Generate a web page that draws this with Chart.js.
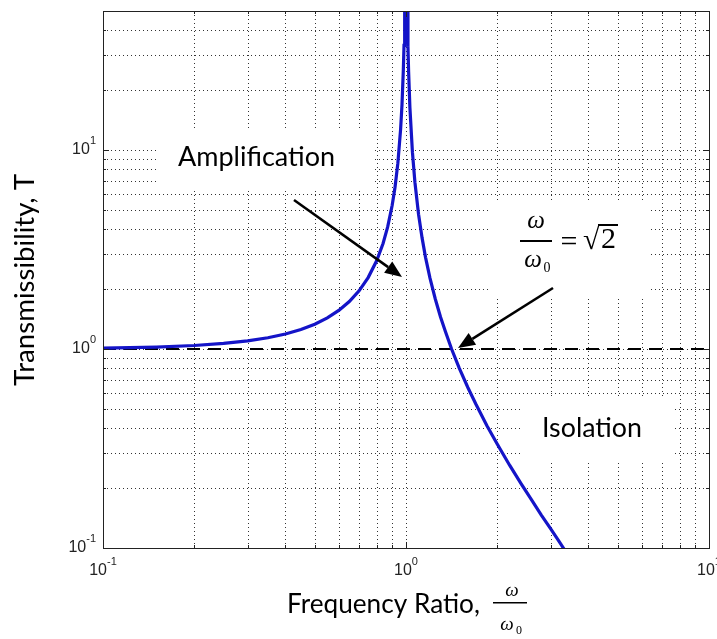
<!DOCTYPE html>
<html>
<head>
<meta charset="utf-8">
<script src="https://cdn.jsdelivr.net/npm/chart.js@4"></script>
<style>
  html, body { margin: 0; padding: 0; background: #fff; }
  #wrap { width: 717px; height: 639px; position: relative; }
</style>
</head>
<body>
<div id="wrap"><canvas id="chart" width="717" height="639"></canvas></div>
<script>
// frequency ratio w/w0 and transmissibility
const ratio = [0.1, 0.15, 0.2, 0.25, 0.3, 0.35, 0.4, 0.45, 0.5, 0.55, 0.6, 0.65, 0.7, 0.75, 0.8, 0.84, 0.87,
  0.9, 0.92, 0.94, 0.96, 0.97, 0.98, 0.985, 0.99, 0.995, 1.005, 1.01, 1.015, 1.02, 1.03, 1.05, 1.07, 1.1, 1.13, 1.16,
  1.2, 1.25, 1.3, 1.35, 1.414, 1.5, 1.6, 1.7, 1.85, 2.0, 2.2, 2.4, 2.6, 2.8, 3.0, 3.2, 3.32];
const transmissibility = [1.01, 1.023, 1.042, 1.067, 1.099, 1.14, 1.19, 1.254, 1.333, 1.434, 1.563, 1.732,
  1.961, 2.286, 2.778, 3.39, 4.11, 5.26, 6.51, 8.59, 12.76, 16.9, 25.3, 33.6, 50.3, 100, 100, 49.8, 33.1, 24.8, 16.4,
  9.76, 6.9, 4.76, 3.62, 2.89, 2.27, 1.78, 1.45, 1.22, 1.0, 0.8, 0.641, 0.529, 0.412, 0.333, 0.26, 0.21,
  0.174, 0.146, 0.125, 0.108, 0.099];
const unityX = [0.1, 10];
const unityY = [1, 1];

const xGrid = [0.2, 0.3, 0.4, 0.5, 0.6, 0.7, 0.8, 0.9, 1, 2, 3, 4, 5, 6, 7, 8, 9];
const yGrid = [0.2, 0.3, 0.4, 0.5, 0.6, 0.7, 0.8, 0.9, 1, 2, 3, 4, 5, 6, 7, 8, 9, 10, 20, 30, 40];
const decades = [0.1, 1, 10];
const decadeExp = ['-1', '0', '1'];

function fitFont(ctx, text, width, family, style) {
  ctx.font = (style || '') + ' 100px ' + family;
  const size = 100 * width / ctx.measureText(text).width;
  return (style || '') + ' ' + size.toFixed(2) + 'px ' + family;
}

function arrow(ctx, x1, y1, x2, y2) {
  const a = Math.atan2(y2 - y1, x2 - x1);
  const len = 17, half = 7;
  const bx = x2 - len * Math.cos(a), by = y2 - len * Math.sin(a);
  ctx.save();
  ctx.strokeStyle = '#000'; ctx.fillStyle = '#000'; ctx.lineWidth = 2.5;
  ctx.beginPath(); ctx.moveTo(x1, y1); ctx.lineTo(bx, by); ctx.stroke();
  ctx.beginPath();
  ctx.moveTo(x2, y2);
  ctx.lineTo(bx + half * Math.sin(a), by - half * Math.cos(a));
  ctx.lineTo(bx - half * Math.sin(a), by + half * Math.cos(a));
  ctx.closePath(); ctx.fill();
  ctx.restore();
}

const backdrop = {
  id: 'backdrop',
  beforeDatasetsDraw(chart) {
    const { ctx, chartArea: a, scales: { x, y } } = chart;
    ctx.save();
    // dotted grid
    ctx.strokeStyle = '#333'; ctx.lineWidth = 1; ctx.setLineDash([1, 3]);
    xGrid.forEach(v => {
      const px = Math.round(x.getPixelForValue(v)) + 0.5;
      ctx.beginPath(); ctx.moveTo(px, a.top); ctx.lineTo(px, a.bottom); ctx.stroke();
    });
    yGrid.forEach(v => {
      const py = Math.round(y.getPixelForValue(v)) + 0.5;
      ctx.beginPath(); ctx.moveTo(a.left, py); ctx.lineTo(a.right, py); ctx.stroke();
    });
    ctx.setLineDash([]);
    // white label boxes
    ctx.fillStyle = '#fff';
    ctx.fillRect(158, 128, 214, 60);
    ctx.fillRect(488, 202, 162, 95);
    ctx.fillRect(520, 397, 153, 63);
    // annotation texts
    ctx.fillStyle = '#000';
    ctx.textAlign = 'left'; ctx.textBaseline = 'alphabetic';
    ctx.font = fitFont(ctx, 'Amplification', 157, 'Lato');
    ctx.fillText('Amplification', 178, 166);
    ctx.font = fitFont(ctx, 'Isolation', 100, 'Lato');
    ctx.fillText('Isolation', 542, 437);
    // w / w0 = sqrt 2
    ctx.textAlign = 'center';
    ctx.font = 'italic 25px "Liberation Serif"';
    ctx.fillText('ω', 536, 228);
    ctx.fillText('ω', 533, 267);
    ctx.font = '14px "Liberation Serif"';
    ctx.fillText('0', 547, 272);
    ctx.fillRect(520, 240, 32, 2);
    ctx.font = '30px "Liberation Serif"';
    ctx.fillText('=', 569, 251);
    ctx.textAlign = 'left';
    ctx.fillText('√', 583, 249);
    ctx.fillText('2', 601, 248);
    ctx.fillRect(598, 224, 20, 2);
    ctx.restore();
  },
  afterDatasetsDraw(chart) {
    const { ctx, chartArea: a, scales: { x, y } } = chart;
    ctx.save();
    // frame and inward ticks
    ctx.strokeStyle = '#222'; ctx.lineWidth = 1;
    ctx.strokeRect(a.left + 0.5, a.top + 0.5, a.right - a.left, a.bottom - a.top);
    ctx.beginPath();
    xGrid.concat(decades).forEach(v => {
      const px = Math.round(x.getPixelForValue(v)) + 0.5;
      const t = decades.includes(v) ? 6 : 3;
      ctx.moveTo(px, a.bottom); ctx.lineTo(px, a.bottom - t);
      ctx.moveTo(px, a.top); ctx.lineTo(px, a.top + t);
    });
    yGrid.forEach(v => {
      const py = Math.round(y.getPixelForValue(v)) + 0.5;
      const t = decades.includes(v) ? 6 : 3;
      ctx.moveTo(a.left, py); ctx.lineTo(a.left + t, py);
      ctx.moveTo(a.right, py); ctx.lineTo(a.right - t, py);
    });
    ctx.stroke();

    // decade tick labels
    ctx.fillStyle = '#222'; ctx.textBaseline = 'middle';
    const big = '16px "Liberation Sans"', small = '11px "Liberation Sans"';
    decades.forEach((v, i) => {
      ctx.font = big;
      const w1 = ctx.measureText('10').width;
      ctx.font = small;
      const w2 = ctx.measureText(decadeExp[i]).width;
      // x axis
      const px = x.getPixelForValue(v) - (w1 + w2) / 2;
      ctx.textAlign = 'left';
      ctx.font = big; ctx.fillText('10', px, 571);
      ctx.font = small; ctx.fillText(decadeExp[i], px + w1, 562);
      // y axis
      const py = y.getPixelForValue(v);
      const rx = 96 - w1 - w2;
      ctx.font = big; ctx.fillText('10', rx, py);
      ctx.font = small; ctx.fillText(decadeExp[i], rx + w1, py - 9);
    });

    // axis titles
    ctx.fillStyle = '#000'; ctx.textBaseline = 'alphabetic'; ctx.textAlign = 'left';
    ctx.font = fitFont(ctx, 'Frequency Ratio,', 193, 'Lato');
    ctx.fillText('Frequency Ratio,', 287, 613);
    ctx.textAlign = 'center';
    ctx.font = 'italic 19px "Liberation Serif"';
    ctx.fillText('ω', 512, 596);
    ctx.fillText('ω', 507, 630);
    ctx.font = '12px "Liberation Serif"';
    ctx.fillText('0', 519, 634);
    ctx.fillRect(493, 602, 34, 1.5);
    ctx.save();
    ctx.translate(34, 280); ctx.rotate(-Math.PI / 2);
    ctx.textAlign = 'center';
    ctx.font = fitFont(ctx, 'Transmissibility, T', 212, 'Lato');
    ctx.fillText('Transmissibility, T', 0, 0);
    ctx.restore();

    // arrows
    arrow(ctx, 294, 200, 402, 277);
    arrow(ctx, 553, 288, 458, 348);
    ctx.restore();
  }
};

new Chart(document.getElementById('chart'), {
  type: 'scatter',
  data: {
    datasets: [
      {
        data: ratio.map((r, i) => ({ x: r, y: transmissibility[i] })),
        showLine: true, borderColor: '#1414c8', borderWidth: 3.2, pointRadius: 0, order: 0
      },
      {
        data: unityX.map((r, i) => ({ x: r, y: unityY[i] })),
        showLine: true, borderColor: '#000', borderWidth: 2, borderDash: [13, 8], pointRadius: 0, order: 1
      }
    ]
  },
  options: {
    responsive: false, animation: false,
    layout: { padding: { left: 103, top: 11, right: 8, bottom: 91 } },
    plugins: { legend: { display: false }, tooltip: { enabled: false } },
    scales: {
      x: { type: 'logarithmic', min: 0.1, max: 10, grid: { display: false, drawTicks: false }, ticks: { display: false }, border: { display: false } },
      y: { type: 'logarithmic', min: 0.1, max: 50, grid: { display: false, drawTicks: false }, ticks: { display: false }, border: { display: false } }
    }
  },
  plugins: [backdrop]
});
</script>
</body>
</html>
